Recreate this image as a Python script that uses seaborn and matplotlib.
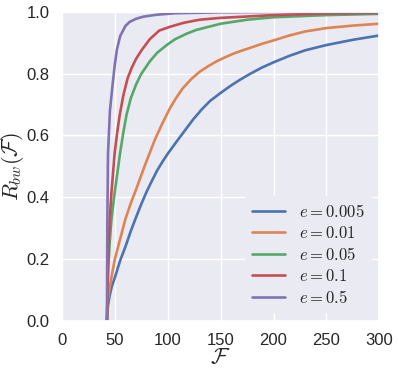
import pandas as pd
import matplotlib
matplotlib.use("Agg")
import matplotlib.pyplot as plt
import seaborn as sns

# values
labels = ["$e=0.005$", "$e=0.01$", "$e=0.05$", "$e=0.1$", "$e=0.5$"]

f_e0005 = [42.5, 43.5, 45, 47, 50, 55, 60, 65, 70, 75, 80, 85, 90, 95, 100,
           110, 117, 124, 132, 140, 150, 159, 168, 178, 189, 200, 215, 230,
           250, 275, 300]
r_e0005 = [0.0, 0.05, 0.08, 0.11, 0.14, 0.195, 0.24, 0.29, 0.335, 0.378,
           0.418, 0.453, 0.487, 0.515, 0.541, 0.588, 0.62, 0.652, 0.684,
           0.712, 0.738, 0.76, 0.78, 0.8, 0.82, 0.837, 0.858, 0.876, 0.893,
           0.91, 0.924]

f_e001 = [42.5, 43.5, 45, 47, 50, 55, 60, 65, 70, 78, 88, 95, 102, 108, 114,
          122, 130, 138, 146, 154, 162, 170, 178, 190, 200, 215, 230, 250,
          275, 300]
r_e001 = [0.0, 0.07, 0.105, 0.145, 0.2, 0.265, 0.33, 0.38, 0.425, 0.5, 0.588,
          0.64, 0.688, 0.722, 0.752, 0.782, 0.806, 0.824, 0.84, 0.853, 0.865,
          0.875, 0.884, 0.898, 0.908, 0.924, 0.937, 0.948, 0.956, 0.962]

f_e005 = [42.5, 43.5, 45, 46.7, 48, 50, 55, 58, 61, 65, 70, 75, 83, 90, 99,
          107, 118, 127, 150, 175, 200, 250, 300]
r_e005 = [0.0, 0.15, 0.25, 0.326, 0.365, 0.42, 0.545, 0.61, 0.667, 0.72,
          0.765, 0.8, 0.84, 0.868, 0.893, 0.912, 0.93, 0.942, 0.962, 0.975,
          0.983, 0.99, 0.994]

f_e01 = [42.5, 43.5, 45.1, 46.7, 49.8, 52, 54.6, 58, 62, 66, 70, 75, 83, 92,
         102, 115, 130, 150, 200, 250, 300]
r_e01 = [0.0, 0.18, 0.326, 0.413, 0.543, 0.605, 0.667, 0.73, 0.785, 0.82,
         0.848, 0.875, 0.912, 0.94, 0.952, 0.965, 0.975, 0.981, 0.99, 0.995,
         0.997]

f_e05 = [42.5, 42.7, 42.9, 43.5, 45.3, 48, 50, 52, 55, 60, 64, 70, 77, 89,
         107, 150, 200, 300]
r_e05 = [0.0, 0.2, 0.33, 0.54, 0.68, 0.77, 0.832, 0.88, 0.922, 0.955, 0.968,
         0.978, 0.985, 0.991, 0.996, 0.999, 1.0, 1.0]

curves = [(f_e0005, r_e0005), (f_e001, r_e001), (f_e005, r_e005),
          (f_e01, r_e01), (f_e05, r_e05)]

rows = []
for lab, (fs, rs) in zip(labels, curves):
    for f, r in zip(fs, rs):
        rows.append({"F": f, "R": r, "e": lab})
df = pd.DataFrame(rows)

sns.set_theme(style="darkgrid")
plt.rcParams["font.family"] = ["Liberation Sans", "DejaVu Sans"]
plt.rcParams["mathtext.fontset"] = "cm"

fig = plt.figure(figsize=(3.99, 3.73), dpi=100)
ax = fig.add_axes([0.1554, 0.1402, 0.7952, 0.8276])

sns.lineplot(data=df, x="F", y="R", hue="e", hue_order=labels,
             estimator=None, sort=False, linewidth=1.9, ax=ax)

ax.set_xlim(0, 300)
ax.set_ylim(0, 1.0)
ax.set_xticks([0, 50, 100, 150, 200, 250, 300])
ax.set_yticks([0.0, 0.2, 0.4, 0.6, 0.8, 1.0])
ax.tick_params(labelsize=12, pad=3)
ax.set_xlabel(r"$\mathcal{F}$", fontsize=16, labelpad=0)
ax.set_ylabel(r"$R_{bw}(\mathcal{F})$", fontsize=16)
ax.yaxis.set_label_coords(-0.115, 0.5)
ax.legend(loc="lower right", fontsize=12, title=None, labelspacing=0.3,
          facecolor="#EAEAF2", edgecolor="#EAEAF2", framealpha=1)

fig.savefig("out.png", dpi=100)
